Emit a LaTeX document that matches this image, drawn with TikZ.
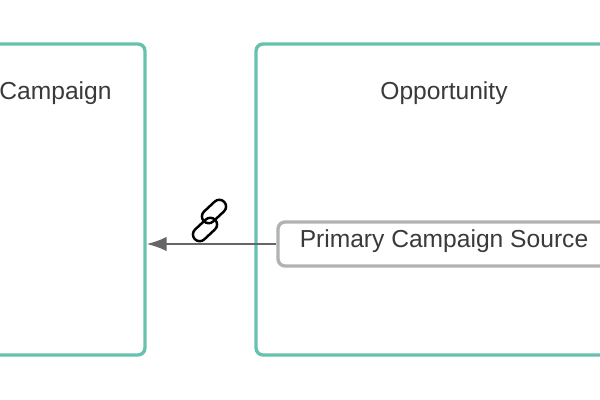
\documentclass[tikz,border=0pt]{standalone}
\usepackage{fontspec}
\setmainfont{Liberation Sans}
\usepackage{tikz}
\usetikzlibrary{arrows.meta}
\definecolor{objteal}{HTML}{66C2AE}
\definecolor{fieldgray}{HTML}{B2B2B2}
\definecolor{arrowgray}{HTML}{666666}
\definecolor{textgray}{HTML}{3A3A3A}
\tikzset{
  objbox/.style={draw=objteal,line width=1.9pt,rounded corners=4pt,fill=white,inner sep=0pt},
  fieldbox/.style={draw=fieldgray,line width=1.9pt,rounded corners=4pt,fill=white,inner sep=0pt},
  title/.style={text=textgray,font=\fontsize{14}{16}\selectfont,inner sep=0pt},
  linkpart/.style={draw=black,line width=1.4pt,rounded corners=3.8pt,rotate=43,minimum width=0.56cm,minimum height=0.27cm,inner sep=0pt}
}
\begin{document}
\begin{tikzpicture}
    \clip (0,0) rectangle (12,8);
    \node[objbox,minimum width=3.6cm,minimum height=6.22cm] (campaign) at (1.1,4.01) {};
    \node[objbox,minimum width=7.52cm,minimum height=6.22cm] (opportunity) at (8.88,4.01) {};
    \node[fieldbox,minimum width=6.64cm,minimum height=0.88cm] (source) at (8.88,3.12) {};
    \node[title] (campaigntitle) at (1.11,6.14) {Campaign};
    \node[title] (opportunitytitle) at (8.88,6.14) {Opportunity};
    \node[title] (sourcetitle) at (8.88,3.17) {Primary Campaign Source};
    \draw[-{Latex[length=0.4cm,width=0.29cm]},draw=arrowgray,fill=arrowgray,line width=1.2pt] (source.west) to (source.west -| campaign.east);
    \node[linkpart] (linkupper) at (4.28,3.77) {};
    \node[linkpart] (linklower) at (4.10,3.41) {};
  \end{tikzpicture}
\end{document}
